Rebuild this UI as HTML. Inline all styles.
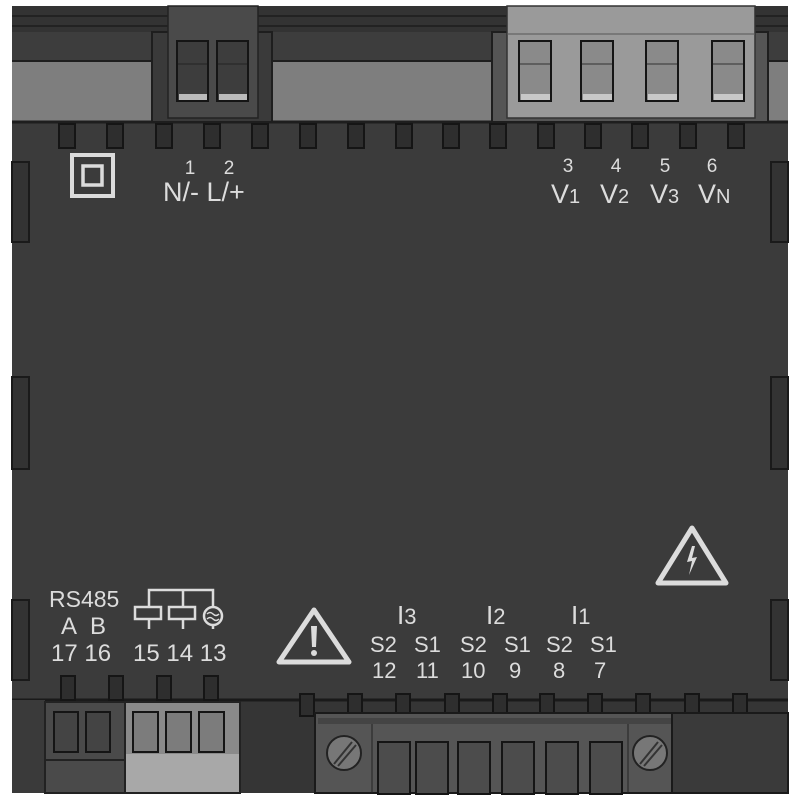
<!DOCTYPE html>
<html><head><meta charset="utf-8"><style>
html,body{margin:0;padding:0;background:#fff;width:800px;height:800px;overflow:hidden}
text{font-family:"Liberation Sans",sans-serif;fill:#dcdcdc}
</style></head><body>
<svg width="800" height="800" viewBox="0 0 800 800" xmlns="http://www.w3.org/2000/svg">
<rect x="0" y="0" width="800" height="800" fill="#fff"/>
<rect x="12" y="6" width="776" height="787" fill="#3b3b3b"/>
<rect x="12" y="6" width="776" height="26" fill="#333"/>
<line x1="12" y1="16" x2="788" y2="16" stroke="#222" stroke-width="2"/>
<line x1="12" y1="26" x2="788" y2="26" stroke="#222" stroke-width="2"/>
<rect x="12" y="32" width="776" height="30" fill="#3d3d3d"/>
<line x1="12" y1="61" x2="788" y2="61" stroke="#1e1e1e" stroke-width="2"/>
<rect x="12" y="62" width="776" height="60" fill="#7e7e7e"/>
<line x1="12" y1="122" x2="788" y2="122" stroke="#1e1e1e" stroke-width="3"/>
<rect x="152" y="32" width="120" height="90" fill="#3a3a3a" stroke="#1e1e1e" stroke-width="2"/>
<rect x="168" y="6" width="90" height="112" fill="#4a4a4a" stroke="#222" stroke-width="1.5"/>
<g fill="#3d3d3d" stroke="#151515" stroke-width="2">
<rect x="177" y="41" width="31" height="60"/><rect x="217" y="41" width="31" height="60"/>
</g>
<line x1="178" y1="64" x2="207" y2="64" stroke="#222"/><line x1="218" y1="64" x2="247" y2="64" stroke="#222"/>
<rect x="179" y="94" width="28" height="6" fill="#bbb"/><rect x="219" y="94" width="28" height="6" fill="#bbb"/>
<rect x="492" y="32" width="276" height="90" fill="#555" stroke="#1e1e1e" stroke-width="2"/>
<rect x="507" y="6" width="248" height="112" fill="#9a9a9a" stroke="#333" stroke-width="1.5"/>
<line x1="507" y1="34" x2="755" y2="34" stroke="#555"/>
<g fill="#8a8a8a" stroke="#151515" stroke-width="2">
<rect x="519" y="41" width="32" height="60"/><rect x="581" y="41" width="32" height="60"/>
<rect x="646" y="41" width="32" height="60"/><rect x="712" y="41" width="32" height="60"/>
</g>
<g stroke="#333"><line x1="520" y1="64" x2="550" y2="64"/><line x1="582" y1="64" x2="612" y2="64"/><line x1="647" y1="64" x2="677" y2="64"/><line x1="713" y1="64" x2="743" y2="64"/></g>
<g fill="#c8c8c8"><rect x="521" y="94" width="29" height="6"/><rect x="583" y="94" width="29" height="6"/><rect x="648" y="94" width="29" height="6"/><rect x="714" y="94" width="29" height="6"/></g>
<g fill="#2e2e2e" stroke="#151515" stroke-width="2">
<rect x="59" y="124" width="16" height="24"/><rect x="107" y="124" width="16" height="24"/><rect x="156" y="124" width="16" height="24"/><rect x="204" y="124" width="16" height="24"/><rect x="252" y="124" width="16" height="24"/><rect x="300" y="124" width="16" height="24"/><rect x="348" y="124" width="16" height="24"/><rect x="396" y="124" width="16" height="24"/><rect x="443" y="124" width="16" height="24"/><rect x="490" y="124" width="16" height="24"/><rect x="538" y="124" width="16" height="24"/><rect x="585" y="124" width="16" height="24"/><rect x="632" y="124" width="16" height="24"/><rect x="680" y="124" width="16" height="24"/><rect x="728" y="124" width="16" height="24"/>
</g>
<g fill="#333" stroke="#1a1a1a" stroke-width="2">
<rect x="12" y="162" width="17" height="80"/><rect x="12" y="377" width="17" height="92"/><rect x="12" y="600" width="17" height="80"/>
<rect x="771" y="162" width="17" height="80"/><rect x="771" y="377" width="17" height="92"/><rect x="771" y="600" width="17" height="80"/>
</g>
<rect x="72" y="155" width="41" height="41" fill="none" stroke="#dcdcdc" stroke-width="4"/>
<rect x="83" y="166" width="19" height="19" fill="none" stroke="#dcdcdc" stroke-width="3.5"/>
<g font-size="19" text-anchor="middle"><text x="190" y="174">1</text><text x="229" y="174">2</text>
<text x="568" y="172">3</text><text x="616" y="172">4</text><text x="665" y="172">5</text><text x="712" y="172">6</text></g>
<text x="163" y="201" font-size="27">N/- L/+</text>
<g font-size="27"><text x="551" y="203">V<tspan font-size="20">1</tspan></text><text x="600" y="203">V<tspan font-size="20">2</tspan></text><text x="650" y="203">V<tspan font-size="20">3</tspan></text><text x="698" y="203">V<tspan font-size="20">N</tspan></text></g>
<path d="M692,528 L726,583 L658,583 Z" fill="none" stroke="#dcdcdc" stroke-width="5" stroke-linejoin="round"/>
<path d="M692,546 L687,562 L692,561 L689,575 L697,557 L692,558 L695,546 Z" fill="#dcdcdc"/>
<path d="M314,610 L349,662 L279,662 Z" fill="none" stroke="#dcdcdc" stroke-width="5" stroke-linejoin="round"/>
<path d="M311,626 L317,626 L316,647 L312,647 Z" fill="#dcdcdc"/><circle cx="314" cy="653" r="3" fill="#dcdcdc"/>
<text x="49" y="607" font-size="23">RS485</text>
<g font-size="24"><text x="61" y="634">A</text><text x="90" y="634">B</text>
<text x="51" y="661">17 16</text><text x="133" y="661">15 14 13</text></g>
<g fill="none" stroke="#dcdcdc" stroke-width="2.5">
<path d="M149,607 V590 H213 V607"/><path d="M183,590 V607"/>
<rect x="135" y="607" width="26" height="12"/><rect x="169" y="607" width="26" height="12"/>
<circle cx="213" cy="616" r="9"/>
<path d="M149,619 V629 M183,619 V629 M213,625 V629"/>
<path d="M207,614 q3,-3 6,0 t6,0 M207,619 q3,-3 6,0 t6,0" stroke-width="1.5"/>
</g>
<g font-size="22">
<text x="397" y="624"><tspan font-size="26">I</tspan>3</text>
<text x="486" y="624"><tspan font-size="26">I</tspan>2</text>
<text x="571" y="624"><tspan font-size="26">I</tspan>1</text>
<text x="370" y="652">S2</text><text x="414" y="652">S1</text><text x="460" y="652">S2</text><text x="504" y="652">S1</text><text x="546" y="652">S2</text><text x="590" y="652">S1</text>
<text x="372" y="678">12</text><text x="416" y="678">11</text><text x="461" y="678">10</text><text x="509" y="678">9</text><text x="553" y="678">8</text><text x="594" y="678">7</text>
</g>
<rect x="12" y="700" width="776" height="93" fill="#353535"/>
<line x1="12" y1="700" x2="788" y2="700" stroke="#1a1a1a" stroke-width="3"/>
<g fill="#2e2e2e" stroke="#151515" stroke-width="2">
<rect x="61" y="676" width="14" height="24"/><rect x="109" y="676" width="14" height="24"/><rect x="157" y="676" width="14" height="24"/><rect x="204" y="676" width="14" height="24"/>
<rect x="300" y="694" width="14" height="22"/><rect x="348" y="694" width="14" height="22"/><rect x="396" y="694" width="14" height="22"/><rect x="445" y="694" width="14" height="22"/><rect x="493" y="694" width="14" height="22"/><rect x="540" y="694" width="14" height="22"/><rect x="588" y="694" width="14" height="22"/><rect x="636" y="694" width="14" height="22"/><rect x="685" y="694" width="14" height="22"/><rect x="733" y="694" width="14" height="22"/>
</g>
<rect x="12" y="700" width="33" height="93" fill="#3a3a3a"/>
<rect x="45" y="702" width="80" height="91" fill="#4a4a4a" stroke="#222" stroke-width="2"/>
<line x1="45" y1="760" x2="125" y2="760" stroke="#222" stroke-width="2"/>
<rect x="125" y="702" width="115" height="91" fill="#8a8a8a" stroke="#222" stroke-width="2"/>
<rect x="126" y="754" width="113" height="38" fill="#a8a8a8"/>
<g fill="#444" stroke="#151515" stroke-width="2"><rect x="54" y="712" width="24" height="40"/><rect x="86" y="712" width="24" height="40"/></g>
<g fill="#7c7c7c" stroke="#151515" stroke-width="2"><rect x="133" y="712" width="25" height="40"/><rect x="166" y="712" width="25" height="40"/><rect x="199" y="712" width="25" height="40"/></g>
<rect x="315" y="713" width="357" height="80" fill="#555" stroke="#1a1a1a" stroke-width="2"/>
<rect x="318" y="718" width="355" height="6" fill="#444"/>
<line x1="372" y1="724" x2="372" y2="793" stroke="#222"/><line x1="628" y1="724" x2="628" y2="793" stroke="#222"/>
<g fill="#777" stroke="#222" stroke-width="2"><circle cx="344" cy="753" r="17"/><circle cx="650" cy="753" r="17"/></g>
<g stroke="#333" stroke-width="2"><line x1="334" y1="764" x2="352" y2="742"/><line x1="338" y1="766" x2="356" y2="745"/><line x1="640" y1="764" x2="658" y2="742"/><line x1="644" y1="766" x2="662" y2="745"/></g>
<g fill="#4c4c4c" stroke="#151515" stroke-width="2">
<rect x="378" y="742" width="32" height="52"/><rect x="416" y="742" width="32" height="52"/><rect x="458" y="742" width="32" height="52"/><rect x="502" y="742" width="32" height="52"/><rect x="546" y="742" width="32" height="52"/><rect x="590" y="742" width="32" height="52"/>
</g>
<rect x="672" y="713" width="116" height="80" fill="#3a3a3a" stroke="#1a1a1a" stroke-width="2"/>
</svg>
</body></html>
